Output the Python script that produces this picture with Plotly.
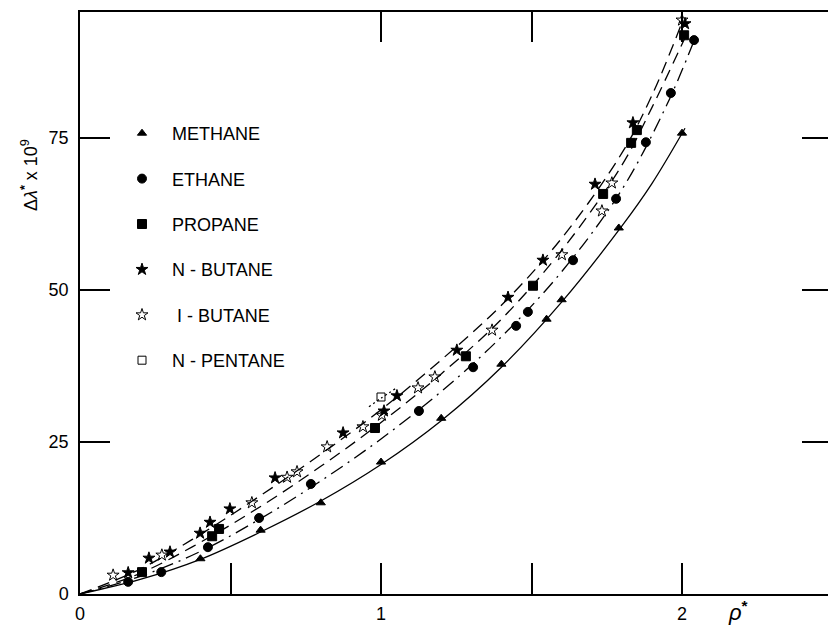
import plotly.graph_objects as go

# ---------------- data ----------------
methane_rho = [0.40, 0.60, 0.80, 1.00, 1.20, 1.40, 1.55, 1.60, 1.79, 2.00]
methane_dl = [5.8, 10.5, 15.0, 21.7, 28.9, 37.8, 45.2, 48.4, 60.2, 75.8]

ethane_rho = [0.16, 0.27, 0.425, 0.595, 0.767, 1.126, 1.306, 1.449, 1.488, 1.638, 1.781, 1.880, 1.963, 2.04]
ethane_dl = [2.0, 3.6, 7.7, 12.5, 18.1, 30.1, 37.3, 44.1, 46.4, 54.9, 65.0, 74.3, 82.4, 91.1]

propane_rho = [0.206, 0.439, 0.462, 0.980, 1.282, 1.505, 1.738, 1.831, 1.850, 2.007]
propane_dl = [3.6, 9.5, 10.7, 27.3, 39.1, 50.7, 65.8, 74.2, 76.3, 91.9]

nbutane_rho = [0.16, 0.229, 0.299, 0.399, 0.432, 0.498, 0.648, 0.874, 1.010, 1.053, 1.252, 1.422, 1.538, 1.711, 1.837, 2.01]
nbutane_dl = [3.5, 5.9, 6.9, 10.0, 11.8, 14.0, 19.1, 26.5, 30.1, 32.6, 40.1, 48.8, 54.9, 67.4, 77.5, 93.8]

ibutane_rho = [0.11, 0.272, 0.571, 0.688, 0.721, 0.821, 0.940, 1.003, 1.123, 1.179, 1.369, 1.601, 1.734, 1.767, 2.00]
ibutane_dl = [3.1, 6.4, 15.0, 19.2, 20.1, 24.2, 27.5, 29.4, 33.9, 35.7, 43.4, 55.8, 63.0, 67.6, 94.4]

npentane_rho = [1.00]
npentane_dl = [32.4]

# fitted curves
methane_fit_rho = [0, 0.2, 0.4, 0.6, 0.8, 1.0, 1.2, 1.4, 1.6, 1.8, 1.9, 2.01]
methane_fit_dl = [0, 2.4, 5.7, 10.2, 15.3, 21.3, 28.5, 37.3, 48.0, 60.5, 67.5, 76.6]

ethane_fit_rho = [0, 0.2, 0.4, 0.6, 0.8, 1.0, 1.2, 1.4, 1.6, 1.8, 1.95, 2.04]
ethane_fit_dl = [0, 2.9, 7.0, 12.4, 18.6, 25.5, 33.3, 42.3, 53.0, 66.5, 80.5, 91.0]

propane_fit_rho = [0, 0.2, 0.4, 0.6, 0.8, 1.0, 1.2, 1.4, 1.6, 1.8, 1.9, 2.01]
propane_fit_dl = [0, 3.4, 8.5, 14.4, 21.0, 28.2, 36.2, 45.2, 56.5, 70.5, 80.0, 91.5]

butane_fit_rho = [0, 0.2, 0.4, 0.6, 0.8, 1.0, 1.2, 1.4, 1.6, 1.8, 1.9, 2.0]
butane_fit_dl = [0, 4.1, 9.8, 16.2, 23.0, 30.3, 38.5, 47.5, 58.5, 72.5, 82.0, 94.0]

pentane_fit_rho = [0.96, 1.0, 1.055]
pentane_fit_dl = [30.8, 32.2, 34.0]

x_tickvals = [0, 1, 2]
x_ticktext = ["0", "1", "2"]
x_minor_ticks = [0.5, 1.5]
y_tickvals = [0, 25, 50, 75]
y_ticktext = ["0", "25", "50", "75"]

FONT = "Liberation Sans, Arial, sans-serif"
NB = "\u00a0"

fig = go.Figure()

# curves
curve_specs = [
    (methane_fit_rho, methane_fit_dl, "solid", "x", "y"),
    (ethane_fit_rho, ethane_fit_dl, "14px,6px,2px,6px", "x", "y"),
    (propane_fit_rho, propane_fit_dl, "12px,7px", "x", "y"),
    (butane_fit_rho, butane_fit_dl, "12px,7px", "x", "y"),
    # drawn on the mirrored (identical-range) axes so the top/right frame ticks render
    (pentane_fit_rho, pentane_fit_dl, "2px,3px", "x2", "y2"),
]
for xr, yr, dash, xa, ya in curve_specs:
    fig.add_trace(go.Scatter(
        x=xr, y=yr, mode="lines", xaxis=xa, yaxis=ya,
        line=dict(color="black", width=1.3, dash=dash, shape="spline"),
        showlegend=False, hoverinfo="skip"))

# markers
marker_specs = [
    ("METHANE", methane_rho, methane_dl, "triangle-up", 8),
    ("ETHANE", ethane_rho, ethane_dl, "circle", 9),
    ("PROPANE", propane_rho, propane_dl, "square", 9),
    ("N - BUTANE", nbutane_rho, nbutane_dl, "star", 9),
    (NB + "I - BUTANE", ibutane_rho, ibutane_dl, "star-open", 9),
    ("N - PENTANE", npentane_rho, npentane_dl, "square-open", 8),
]
for i, (name, xr, yr, sym, sz) in enumerate(marker_specs):
    fig.add_trace(go.Scatter(
        x=xr, y=yr, mode="markers", name=NB * 2 + name, legendgroup="g%d" % i,
        marker=dict(symbol=sym, size=sz, color="black", line=dict(color="black", width=1))))

XR = [0, (828 - 80) / 301]
YR = [0, (594 - 12) / 6.08]

fig.update_layout(
    width=828, height=625,
    margin=dict(l=80, r=0, t=12, b=31),
    paper_bgcolor="white", plot_bgcolor="white",
    font=dict(family=FONT, color="black", size=18),
    showlegend=True,
    legend=dict(x=(122 - 80) / 748, y=(594 - 115) / 582, xanchor="left", yanchor="top",
                bgcolor="rgba(0,0,0,0)", font=dict(size=18, family=FONT),
                tracegroupgap=19, itemsizing="trace"),
    xaxis=dict(range=XR, tickvals=x_tickvals, ticktext=x_ticktext, ticks="inside", ticklen=31,
               tickwidth=1.5, tickcolor="black", showline=True, linecolor="black", linewidth=1.5,
               showgrid=False, zeroline=False, ticklabelstandoff=3,
               minor=dict(tickvals=x_minor_ticks, ticks="inside", ticklen=31, tickwidth=1.5,
                          tickcolor="black", showgrid=False)),
    yaxis=dict(range=YR, tickvals=y_tickvals, ticktext=y_ticktext, ticks="inside", ticklen=30,
               tickwidth=1.5, tickcolor="black", showline=True, linecolor="black", linewidth=1.5,
               showgrid=False, zeroline=False, ticklabelstandoff=6),
    xaxis2=dict(range=XR, overlaying="x", side="top", anchor="y2", tickvals=[1, 1.5, 2], ticks="inside",
                ticklen=30, tickwidth=1.5, tickcolor="black", showticklabels=False, showline=True,
                linecolor="black", linewidth=1.5, showgrid=False, zeroline=False),
    yaxis2=dict(range=YR, overlaying="y", side="right", anchor="x2", tickvals=[25, 50, 75], ticks="inside",
                ticklen=26, tickwidth=1.5, tickcolor="black", showticklabels=False, showline=False,
                showgrid=False, zeroline=False),
    annotations=[
        dict(xref="paper", yref="paper", x=(738 - 80) / 748, y=(594 - 611) / 582,
             text="<i>ρ</i><sup><b>*</b></sup>", showarrow=False, font=dict(size=22, family=FONT),
             xanchor="center", yanchor="middle"),
        dict(xref="paper", yref="paper", x=(29 - 80) / 748, y=(594 - 175) / 582,
             text="Δ<i>λ</i><sup><b>*</b></sup> x 10<sup>9</sup>", showarrow=False, textangle=-90,
             font=dict(size=18, family=FONT), xanchor="center", yanchor="middle"),
    ],
)

fig.write_html("out.html")
